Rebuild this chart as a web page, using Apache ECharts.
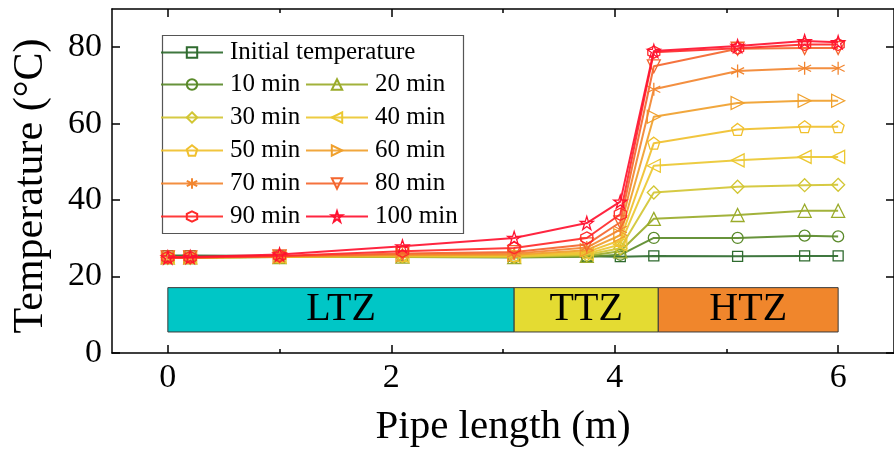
<!DOCTYPE html>
<html><head><meta charset="utf-8">
<script src="https://cdn.jsdelivr.net/npm/echarts@6/dist/echarts.min.js"></script>
<style>html,body{margin:0;padding:0;background:#fff}#c{width:894px;height:453px}</style>
</head><body><div id="c"></div>
<script>
// ---- data ----
const xPos = [0, 0.2, 1.0, 2.1, 3.1, 3.75, 4.05, 4.35, 5.1, 5.7, 6.0];
const seriesNames = ['Initial temperature','10 min','20 min','30 min','40 min','50 min','60 min','70 min','80 min','90 min','100 min'];
const tInit = [25.5, 25.5, 25.4, 25.4, 25.3, 25.3, 25.2, 25.4, 25.3, 25.4, 25.4];
const t10  = [25.0, 25.0, 25.1, 25.1, 25.0, 25.2, 25.7, 30.1, 30.1, 30.7, 30.5];
const t20  = [25.0, 25.0, 25.1, 25.2, 25.1, 25.4, 26.6, 35.1, 36.1, 37.2, 37.2];
const t30  = [25.0, 25.0, 25.1, 25.3, 25.2, 25.7, 27.4, 42.0, 43.5, 43.9, 44.0];
const t40  = [25.0, 25.0, 25.2, 25.4, 25.3, 26.0, 28.4, 49.0, 50.4, 51.3, 51.3];
const t50  = [25.0, 25.0, 25.2, 25.5, 25.5, 26.4, 29.5, 54.9, 58.5, 59.2, 59.2];
const t60  = [25.0, 25.0, 25.2, 25.6, 25.7, 26.9, 30.8, 61.8, 65.4, 66.0, 66.0];
const t70  = [25.0, 25.0, 25.3, 25.8, 26.0, 27.6, 32.3, 69.0, 73.8, 74.5, 74.5];
const t80  = [25.0, 25.0, 25.3, 26.0, 26.4, 28.4, 34.2, 75.0, 79.6, 79.8, 79.8];
const t90  = [25.0, 25.0, 25.4, 26.6, 27.5, 30.1, 36.3, 78.7, 79.7, 80.7, 80.7];
const t100 = [25.0, 25.1, 25.8, 27.9, 30.1, 34.0, 39.6, 79.0, 80.3, 81.6, 81.3];
const seriesValues = [tInit, t10, t20, t30, t40, t50, t60, t70, t80, t90, t100];
const zoneNames = ['LTZ', 'TTZ', 'HTZ'];
const zoneStart = [0, 3.1, 4.39];
const zoneEnd = [3.1, 4.39, 6.0];
const zoneLow = [5.5, 5.5, 5.5];
const zoneHigh = [17.1, 17.1, 17.1];
const xTickLabels = [0, 2, 4, 6];
const xMinorTicks = [1, 3, 5];
const yTickLabels = [0, 20, 40, 60, 80];

// ---- styles ----
const FONT = 'Liberation Serif';
const colors = ['#2f6b2f','#5a8a2a','#9aab2a','#d2c634','#ecc832','#f0c02e','#f0a02c','#f28630','#f4662e','#ff2a2a','#ff1230'];
const symbols = [
  'rect', 'circle', 'triangle', 'diamond',
  'path://M0,5 L10,0 L10,10 Z',
  'path://M5,0 L9.76,3.45 L7.94,9.05 L2.06,9.05 L0.24,3.45 Z',
  'path://M10,5 L0,0 L0,10 Z',
  'path://M5,0 L5,10 M0.67,2.5 L9.33,7.5 M0.67,7.5 L9.33,2.5',
  'path://M0,0 L10,0 L5,9 Z',
  'path://M5,0 L9.33,2.5 L9.33,7.5 L5,10 L0.67,7.5 L0.67,2.5 Z',
  'path://M5,0 L6.18,3.6 L10,3.6 L6.9,5.85 L8.09,9.5 L5,7.25 L1.91,9.5 L3.1,5.85 L0,3.6 L3.82,3.6 Z'
];
const symSizes = [10, 11, 13, 13, 13, 12, 13, 13, 13, 12, 13];
const zoneColors = ['#00c6c6', '#e4db32', '#f0862c'];

const lineSeries = seriesNames.map((name, i) => ({
  name: name, type: 'line', xAxisIndex: 0, yAxisIndex: 0,
  data: xPos.map((x, j) => [x, seriesValues[i][j]]),
  symbol: symbols[i], symbolSize: symSizes[i], showAllSymbol: true,
  lineStyle: { color: colors[i], width: 2, opacity: 0.92 },
  itemStyle: { color: 'rgba(255,255,255,0)', borderColor: colors[i], borderWidth: 1.3 },
  z: 3 + i, silent: true, animation: false, emphasis: { disabled: true }
}));

const zoneSeries = {
  type: 'custom', xAxisIndex: 0, yAxisIndex: 0, z: 1, silent: true, animation: false,
  encode: { x: [0, 1], y: [2, 3] },
  data: zoneNames.map((n, i) => [zoneStart[i], zoneEnd[i], zoneLow[i], zoneHigh[i]]),
  renderItem: function (params, api) {
    const p0 = api.coord([api.value(0), api.value(3)]);
    const p1 = api.coord([api.value(1), api.value(2)]);
    return {
      type: 'rect',
      shape: { x: p0[0], y: p0[1], width: p1[0] - p0[0], height: p1[1] - p0[1] },
      style: { fill: zoneColors[params.dataIndex], stroke: '#3a3a3a', lineWidth: 1 },
      textContent: { type: 'text', style: { text: zoneNames[params.dataIndex], font: '40px "' + FONT + '"', fill: '#000' } },
      textConfig: { position: 'inside' }
    };
  }
};

const legendBase = {
  orient: 'vertical', padding: 0, itemWidth: 62, itemHeight: 13, itemGap: 8,
  selectedMode: false,
  textStyle: { fontFamily: FONT, fontSize: 25, color: '#000', padding: [0, 0, 0, 2] }
};

const axisLineStyle = { color: '#000', width: 1.5 };
const option = {
  backgroundColor: '#fff',
  animation: false,
  grid: { left: 112, right: -3, top: 9, bottom: 97, containLabel: false },
  xAxis: [
    { type: 'value', min: -0.5, max: 6.5, position: 'bottom',
      axisLine: { show: true, onZero: false, lineStyle: axisLineStyle },
      axisTick: { show: true, inside: true, length: 8, customValues: xTickLabels, lineStyle: axisLineStyle },
      axisLabel: { customValues: xTickLabels, fontFamily: FONT, fontSize: 34, color: '#000', margin: 8 },
      splitLine: { show: false },
      name: 'Pipe length (m)', nameLocation: 'middle', nameGap: 54,
      nameTextStyle: { fontFamily: FONT, fontSize: 41, color: '#000' } },
    { type: 'value', min: -0.5, max: 6.5, position: 'bottom',
      axisLine: { show: false, onZero: false },
      axisTick: { show: true, inside: true, length: 4, customValues: xMinorTicks, lineStyle: axisLineStyle },
      axisLabel: { show: false }, splitLine: { show: false } },
    { type: 'value', min: -0.5, max: 6.5, position: 'top',
      axisLine: { show: true, onZero: false, lineStyle: axisLineStyle },
      axisTick: { show: true, inside: true, length: 8, customValues: xTickLabels, lineStyle: axisLineStyle },
      axisLabel: { show: false }, splitLine: { show: false } },
    { type: 'value', min: -0.5, max: 6.5, position: 'top',
      axisLine: { show: false, onZero: false },
      axisTick: { show: true, inside: true, length: 4, customValues: xMinorTicks, lineStyle: axisLineStyle },
      axisLabel: { show: false }, splitLine: { show: false } }
  ],
  yAxis: [
    { type: 'value', min: 0, max: 90, position: 'left',
      axisLine: { show: true, onZero: false, lineStyle: axisLineStyle },
      axisTick: { show: true, inside: true, length: 8, customValues: yTickLabels, lineStyle: axisLineStyle },
      axisLabel: { customValues: yTickLabels, fontFamily: FONT, fontSize: 34, color: '#000', margin: 10 },
      splitLine: { show: false },
      name: 'Temperature (°C)', nameLocation: 'middle', nameGap: 60,
      nameTextStyle: { fontFamily: FONT, fontSize: 42, color: '#000', padding: [0, 10, 0, 0] } },
    { type: 'value', min: 0, max: 90, position: 'right',
      axisLine: { show: true, onZero: false, lineStyle: axisLineStyle },
      axisTick: { show: true, inside: true, length: 8, customValues: yTickLabels, lineStyle: axisLineStyle },
      axisLabel: { show: false }, splitLine: { show: false } }
  ],
  legend: [
    Object.assign({}, legendBase, { data: [seriesNames[0]], left: 160, top: 40 }),
    Object.assign({}, legendBase, { data: [seriesNames[1], seriesNames[3], seriesNames[5], seriesNames[7], seriesNames[9]], left: 160, top: 72 }),
    Object.assign({}, legendBase, { data: [seriesNames[2], seriesNames[4], seriesNames[6], seriesNames[8], seriesNames[10]], left: 305, top: 72 })
  ],
  graphic: [
    { type: 'rect', left: 160, top: 33, shape: { width: 301, height: 198 },
      style: { fill: 'none', stroke: '#555', lineWidth: 1.2 }, z: 0 }
  ],
  series: [zoneSeries].concat(lineSeries)
};
const chart = echarts.init(document.getElementById('c'), null, { renderer: 'canvas' });
chart.setOption(option);
</script>
</body></html>
